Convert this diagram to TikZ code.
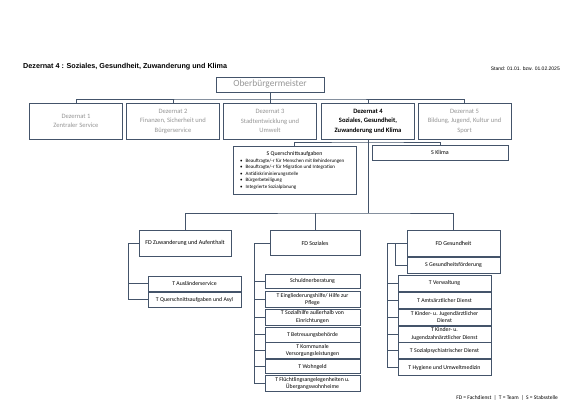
\documentclass[tikz,border=0pt]{standalone}
\usepackage{fontspec}
\setmainfont{Carlito}
\newfontfamily\arialf{Liberation Sans}
\definecolor{slate}{RGB}{68,84,106}
\definecolor{boxgray}{RGB}{150,150,150}
\begin{document}
\begin{tikzpicture}[x=1pt,y=-1pt,
  line/.style={draw=slate,line width=0.7pt},
  box/.style={draw=slate,line width=0.8pt,fill=white,rectangle,inner sep=0pt,align=center},
  dez/.style={box,minimum width=93pt,minimum height=36pt,font=\fontsize{6.6}{9.5}\selectfont},
  dezg/.style={dez,text=boxgray},
  fd/.style={box,minimum height=26pt,font=\fontsize{6}{7.5}\selectfont},
  team/.style={box,minimum height=16pt,font=\fontsize{5.8}{7.2}\selectfont},
  bul/.style={inner sep=0pt,anchor=west,font=\fontsize{5}{6.5}\selectfont}]
\useasboundingbox (0,0) rectangle (585,414);
% headings
\node[anchor=west,inner sep=0pt,font=\arialf\bfseries\fontsize{7.2}{8}\selectfont] (title) at (23,67) {Dezernat 4 : Soziales, Gesundheit, Zuwanderung und Klima};
\node[anchor=east,inner sep=0pt,font=\arialf\fontsize{5}{6}\selectfont] (stand) at (560,69) {Stand: 01.01. bzw. 01.02.2025};
\node[anchor=east,inner sep=0pt,font=\fontsize{5.5}{6.5}\selectfont] (legend) at (558,398) {FD = Fachdienst \ | \ T = Team \ | \ S = Stabsstelle};
% top level
\node[box,minimum width=108pt,minimum height=15pt,text=boxgray,font=\fontsize{9.4}{11}\selectfont] (ob) at (270,84.5) {Oberbürgermeister};
\node[dezg] (d1) at (76,121) {Dezernat 1\\Zentraler Service};
\node[dezg] (d2) at (173,121) {Dezernat 2\\Finanzen, Sicherheit und\\Bürgerservice};
\node[dezg] (d3) at (270,121) {Dezernat 3\\Stadtentwicklung und\\Umwelt};
\node[dez,font=\bfseries\fontsize{6.6}{9.5}\selectfont] (d4) at (368,121) {Dezernat 4\\Soziales, Gesundheit,\\Zuwanderung und Klima};
\node[dezg] (d5) at (464.5,121) {Dezernat 5\\Bildung, Jugend, Kultur und\\Sport};
\coordinate (bar1) at (270,99);
\draw[line] (ob.south) -- (bar1);
\draw[line] (d1.north) |- (bar1) -| (d5.north);
\draw[line] (d2.north) -- (d2.north |- bar1);
\draw[line] (d3.north) -- (d3.north |- bar1);
\draw[line] (d4.north) -- (d4.north |- bar1);
% staff level
\node[box,minimum width=123pt,minimum height=48pt] (qs) at (294.5,170) {};
\node[inner sep=0pt,font=\fontsize{5.8}{7}\selectfont] (qst) at (294.5,154) {S Querschnittsaufgaben};
\node[bul] (q1) at (240,160.7) {•\hspace{3pt}Beauftragte/-r für Menschen mit Behinderungen};
\node[bul] (q2) at (240,167.2) {•\hspace{3pt}Beauftragte/-r für Migration und Integration};
\node[bul] (q3) at (240,173.7) {•\hspace{3pt}Antidiskriminierungsstelle};
\node[bul] (q4) at (240,180.2) {•\hspace{3pt}Bürgerbeteiligung};
\node[bul] (q5) at (240,186.7) {•\hspace{3pt}Integrierte Sozialplanung};
\node[box,minimum width=136pt,minimum height=15pt,font=\fontsize{6}{7}\selectfont] (klima) at (440,152.5) {S Klima};
\coordinate (bar2) at (368,142);
\draw[line] (qs.north) |- (bar2) -| (klima.north);
% FD level
\coordinate (bar3) at (368,213);
\draw[line] (d4.south) -- (bar3);
\node[fd,minimum width=92pt] (fdz) at (185,243) {FD Zuwanderung und Aufenthalt};
\node[fd,minimum width=90pt,minimum height=25pt] (fds) at (315,243) {FD Soziales};
\node[fd,minimum width=93pt] (fdg) at (453.5,243) {FD Gesundheit};
\draw[line] (fdz.north) |- (bar3) -| (fdg.north);
\draw[line] (fds.north) -- (fds.north |- bar3);
% Zuwanderung teams
\node[team,minimum width=93pt,minimum height=15pt] (za) at (194.5,283.5) {T Ausländerservice};
\node[team,minimum width=93pt,minimum height=15pt] (zq) at (194.5,299.5) {T Querschnittsaufgaben und Asyl};
\coordinate (bz) at (128,0);
\draw[line] (fdz.west) -- (fdz.west -| bz) -- (zq.west -| bz) -- (zq.west);
\draw[line] (za.west -| bz) -- (za.west);
% Soziales teams
\node[team,minimum width=95pt,minimum height=14pt] (s1) at (312.5,281) {Schuldnerberatung};
\node[team,minimum width=95pt] (s2) at (312.5,299.5) {T Eingliederungshilfe/ Hilfe zur\\Pflege};
\node[team,minimum width=95pt] (s3) at (312.5,317) {T Sozialhilfe außerhalb von\\Einrichtungen};
\node[team,minimum width=95pt,minimum height=15pt] (s4) at (312.5,334.5) {T Betreuungsbehörde};
\node[team,minimum width=95pt] (s5) at (312.5,350.5) {T Kommunale\\Versorgungsleistungen};
\node[team,minimum width=95pt,minimum height=14pt] (s6) at (312.5,366.5) {T Wohngeld};
\node[team,minimum width=95pt] (s7) at (312.5,383.5) {T Flüchtlingsangelegenheiten u.\\Übergangswohnheime};
\coordinate (bs) at (254,0);
\draw[line] (fds.west) -- (fds.west -| bs) -- (s7.west -| bs) -- (s7.west);
\foreach \n in {s1,s2,s3,s4,s5,s6} \draw[line] (\n.west -| bs) -- (\n.west);
% Gesundheit
\node[team,minimum width=93pt] (sg) at (453.5,265) {S Gesundheitsförderung};
\node[team,minimum width=93pt] (g1) at (444.5,283) {T Verwaltung};
\node[team,minimum width=93pt] (g2) at (444.5,300.5) {T Amtsärztlicher Dienst};
\node[team,minimum width=93pt] (g3) at (444.5,317) {T Kinder- u. Jugendärztlicher\\Dienst};
\node[team,minimum width=93pt] (g4) at (444.5,334) {T Kinder- u.\\Jugendzahnärztlicher Dienst};
\node[team,minimum width=93pt] (g5) at (444.5,350.5) {T Sozialpsychiatrischer Dienst};
\node[team,minimum width=93pt] (g6) at (444.5,367.5) {T Hygiene und Umweltmedizin};
\coordinate (bg) at (387,0);
\coordinate (bg2) at (395,0);
\draw[line] (fdg.west) -- (fdg.west -| bg) -- (g6.west -| bg) -- (g6.west);
\draw[line] (fdg.west -| bg2) -- (sg.west -| bg2) -- (sg.west);
\foreach \n in {g1,g2,g3,g4,g5} \draw[line] (\n.west -| bg) -- (\n.west);
\end{tikzpicture}
\end{document}
